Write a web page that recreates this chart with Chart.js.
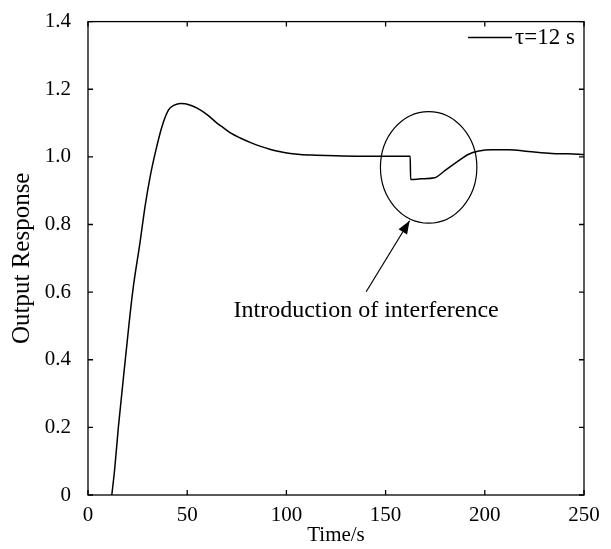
<!DOCTYPE html>
<html>
<head>
<meta charset="utf-8">
<script src="https://cdn.jsdelivr.net/npm/chart.js@4"></script>
<style>
  html, body { margin: 0; padding: 0; background: #fff; }
  #wrap { width: 611px; height: 549px; }
</style>
</head>
<body>
<div id="wrap"><canvas id="respChart" width="611" height="549"></canvas></div>
<script>
// time (s) and output response
const times = [12, 13.5, 15.3, 18.8, 22.5, 26.3, 28.8, 31.4, 33.9, 37.3, 40.6, 43.5, 46.6, 49, 52, 55,
  60, 65, 68.5, 72, 77, 82, 87, 92, 97, 102, 107, 115, 125, 135, 148, 162.4,
  162.6, 168, 174.7, 180, 186, 191.6, 197, 203.4, 211.9, 222, 233.8, 242, 250];
const response = [0, 0.08, 0.2, 0.4, 0.6, 0.75, 0.855, 0.944, 1.012, 1.09, 1.139, 1.153, 1.158, 1.157, 1.152, 1.144,
  1.125, 1.1, 1.085, 1.07, 1.055, 1.042, 1.031, 1.022, 1.015, 1.01, 1.007, 1.005, 1.003, 1.002, 1.002, 1.002,
  0.933, 0.935, 0.938, 0.96, 0.985, 1.007, 1.017, 1.021, 1.021, 1.016, 1.01, 1.009, 1.007];
const xTicks = [0, 50, 100, 150, 200, 250];
const yTicks = [0, 0.2, 0.4, 0.6, 0.8, 1.0, 1.2, 1.4];
const seriesLabel = 'τ=12 s';
const noteText = 'Introduction of interference';

const FONT = '"Liberation Serif", "Times New Roman", serif';

// frame, inward ticks, the circled region, arrow and legend
const decorations = {
  id: 'decorations',
  afterDraw(chart) {
    const { ctx, chartArea: a, scales: { x, y } } = chart;
    ctx.save();
    ctx.strokeStyle = '#000';
    ctx.lineWidth = 1.3;
    ctx.strokeRect(a.left, a.top, a.right - a.left, a.bottom - a.top);
    const tl = 5;
    ctx.beginPath();
    xTicks.forEach(v => {
      const px = x.getPixelForValue(v);
      ctx.moveTo(px, a.bottom); ctx.lineTo(px, a.bottom - tl);
      ctx.moveTo(px, a.top); ctx.lineTo(px, a.top + tl);
    });
    yTicks.forEach(v => {
      const py = y.getPixelForValue(v);
      ctx.moveTo(a.left, py); ctx.lineTo(a.left + tl, py);
      ctx.moveTo(a.right, py); ctx.lineTo(a.right - tl, py);
    });
    ctx.stroke();

    // ellipse around the disturbance
    const cx = x.getPixelForValue(171.7), cy = y.getPixelForValue(0.969);
    const rx = x.getPixelForValue(171.7 + 24.3) - cx;
    const ry = cy - y.getPixelForValue(0.969 + 0.165);
    ctx.lineWidth = 1.2;
    ctx.beginPath();
    ctx.ellipse(cx, cy, rx, ry, 0, 0, Math.PI * 2);
    ctx.stroke();

    // arrow
    const x0 = x.getPixelForValue(140.2), y0 = y.getPixelForValue(0.601);
    const x1 = x.getPixelForValue(162.1), y1 = y.getPixelForValue(0.811);
    const ang = Math.atan2(y1 - y0, x1 - x0);
    ctx.beginPath();
    ctx.moveTo(x0, y0); ctx.lineTo(x1, y1);
    ctx.stroke();
    ctx.fillStyle = '#000';
    ctx.beginPath();
    ctx.moveTo(x1, y1);
    ctx.lineTo(x1 - 13 * Math.cos(ang) + 5 * Math.sin(ang), y1 - 13 * Math.sin(ang) - 5 * Math.cos(ang));
    ctx.lineTo(x1 - 13 * Math.cos(ang) - 5 * Math.sin(ang), y1 - 13 * Math.sin(ang) + 5 * Math.cos(ang));
    ctx.closePath();
    ctx.fill();

    ctx.font = '24px ' + FONT;
    ctx.textAlign = 'center';
    ctx.textBaseline = 'middle';
    ctx.fillText(noteText, x.getPixelForValue(140.2), y.getPixelForValue(0.545));

    // legend in the top right corner
    const ly = a.top + 16;
    ctx.lineWidth = 1.5;
    ctx.beginPath();
    ctx.moveTo(a.right - 116, ly); ctx.lineTo(a.right - 72, ly);
    ctx.stroke();
    ctx.font = '23px ' + FONT;
    ctx.textAlign = 'left';
    ctx.fillText(seriesLabel, a.right - 69, ly);
    ctx.restore();
  }
};

new Chart(document.getElementById('respChart'), {
  type: 'line',
  data: {
    datasets: [{
      label: seriesLabel,
      data: times.map((t, i) => ({ x: t, y: response[i] })),
      borderColor: '#000',
      borderWidth: 1.5,
      pointRadius: 0,
      cubicInterpolationMode: 'monotone',
      fill: false
    }]
  },
  options: {
    responsive: false,
    animation: false,
    layout: { padding: { top: 17, right: 27, left: 0, bottom: 0 } },
    plugins: { legend: { display: false }, tooltip: { enabled: false } },
    scales: {
      x: {
        type: 'linear',
        min: 0, max: 250,
        afterFit: s => { s.height = 54; },
        afterBuildTicks: s => { s.ticks = xTicks.map(v => ({ value: v })); },
        grid: { display: false },
        border: { display: false },
        ticks: { color: '#000', font: { family: FONT, size: 21 }, padding: 0, maxRotation: 0 },
        title: { display: true, text: 'Time/s', color: '#000', font: { family: FONT, size: 21 }, padding: { top: 0, bottom: 1 } }
      },
      y: {
        min: 0, max: 1.4,
        afterFit: s => { s.width = 88; },
        afterBuildTicks: s => { s.ticks = yTicks.map(v => ({ value: v })); },
        grid: { display: false },
        border: { display: false },
        ticks: {
          color: '#000', font: { family: FONT, size: 21 }, padding: 9,
          callback: v => (v === 0 ? '0' : v.toFixed(1))
        },
        title: { display: true, text: 'Output Response', color: '#000', font: { family: FONT, size: 25 }, padding: { top: 7, bottom: 0 } }
      }
    }
  },
  plugins: [decorations]
});
</script>
</body>
</html>
